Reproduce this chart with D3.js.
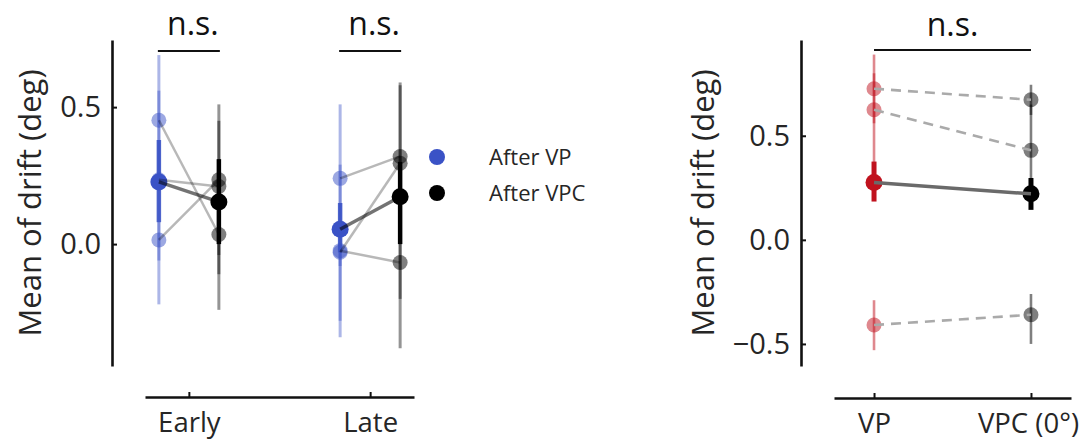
<!DOCTYPE html>
<html><head><meta charset="utf-8">
<script src="https://cdn.jsdelivr.net/npm/d3@7"></script>
<style>
html,body{margin:0;padding:0;background:#fff;}
svg{display:block;font-family:"Open Sans",sans-serif;}
</style></head>
<body><svg id="c" width="1088" height="441"></svg>
<script>
// ---------- data ----------
const leftCategories = ["Early", "Late"];
const vpIndiv   = [[0.452, 0.235, 0.015], [0.24, -0.03, -0.024]];
const vpIndivCI = [[[0.20, 0.69], [-0.06, 0.56], [-0.22, 0.38]],
                   [[-0.08, 0.51], [-0.34, 0.29], [-0.28, 0.15]]];
const vpMean    = [0.227, 0.054];
const vpMeanCI  = [[0.08, 0.38], [-0.03, 0.15]];
const vpcIndiv   = [[0.035, 0.21, 0.235], [0.32, 0.295, -0.067]];
const vpcIndivCI = [[[-0.11, 0.31], [-0.24, 0.45], [-0.04, 0.51]],
                    [[0.05, 0.59], [-0.38, 0.58], [-0.20, 0.08]]];
const vpcMean    = [0.154, 0.173];
const vpcMeanCI  = [[0.0, 0.31], [0.0, 0.30]];
const leftTicks = [0.0, 0.5];

const rightCategories = ["VP", "VPC (0°)"];
const vpR      = [0.726, 0.625, -0.409];
const vpRCI    = [[0.56, 0.89], [0.30, 0.80], [-0.53, -0.29]];
const vpRMean  = 0.276;
const vpRMeanCI = [0.184, 0.376];
const vpcR      = [0.673, 0.43, -0.36];
const vpcRCI    = [[0.60, 0.745], [0.25, 0.65], [-0.50, -0.26]];
const vpcRMean  = 0.221;
const vpcRMeanCI = [0.144, 0.297];
const rightTicks = [-0.5, 0.0, 0.5];

const legendLabels = ["After VP", "After VPC"];
const yLabel = "Mean of drift (deg)";
const sigLabel = "n.s.";

// ---------- styles ----------
const BLUE = "#3a52c6", RED = "#c0121e", BLACK = "#000";
const TXT = "#262626";
const svg = d3.select("#c");

function styleAxis(g, fs){
  g.select(".domain").attr("stroke", "#111").attr("stroke-width", 2.6);
  g.selectAll(".tick line").attr("stroke", "#111").attr("stroke-width", 2);
  g.selectAll(".tick text").attr("fill", TXT).attr("font-size", fs).attr("font-family", "Open Sans");
}

// ---------- left panel ----------
const yL = d3.scaleLinear().domain([-0.445, 0.745]).range([366, 40]);
const xL = d3.scalePoint().domain(leftCategories).range([145, 414]).padding(0.242);
const off = 30;

const gyL = svg.append("g").attr("transform", "translate(112,0)")
  .call(d3.axisLeft(yL).tickValues(leftTicks).tickFormat(d3.format(".1f")).tickSize(-5).tickSizeOuter(0).tickPadding(11));
styleAxis(gyL, 29);
const gxL = svg.append("g").attr("transform", "translate(0,397)")
  .call(d3.axisBottom(xL).tickSize(-5).tickSizeOuter(0).tickPadding(15));
styleAxis(gxL, 27.5);

svg.append("text").attr("transform", `translate(41,${(40+366)/2}) rotate(-90)`)
  .attr("text-anchor", "middle").attr("font-size", 31).attr("fill", TXT).text(yLabel);

const L = svg.append("g");
leftCategories.forEach((c, i) => {
  const x1 = xL(c) - off, x2 = xL(c) + off;
  vpIndivCI[i].forEach(ci => L.append("line").attr("x1", x1).attr("x2", x1)
    .attr("y1", yL(ci[0])).attr("y2", yL(ci[1])).attr("stroke", BLUE).attr("stroke-opacity", 0.42).attr("stroke-width", 3));
  vpcIndivCI[i].forEach(ci => L.append("line").attr("x1", x2).attr("x2", x2)
    .attr("y1", yL(ci[0])).attr("y2", yL(ci[1])).attr("stroke", BLACK).attr("stroke-opacity", 0.42).attr("stroke-width", 3));
  L.append("line").attr("x1", x1).attr("x2", x1).attr("y1", yL(vpMeanCI[i][0])).attr("y2", yL(vpMeanCI[i][1]))
    .attr("stroke", BLUE).attr("stroke-opacity", 0.85).attr("stroke-width", 4.5);
  L.append("line").attr("x1", x2).attr("x2", x2).attr("y1", yL(vpcMeanCI[i][0])).attr("y2", yL(vpcMeanCI[i][1]))
    .attr("stroke", BLACK).attr("stroke-width", 4.5);
  vpIndiv[i].forEach(v => L.append("circle").attr("cx", x1).attr("cy", yL(v)).attr("r", 7.5).attr("fill", BLUE).attr("fill-opacity", 0.5));
  vpcIndiv[i].forEach(v => L.append("circle").attr("cx", x2).attr("cy", yL(v)).attr("r", 7.5).attr("fill", BLACK).attr("fill-opacity", 0.5));
  L.append("circle").attr("cx", x1).attr("cy", yL(vpMean[i])).attr("r", 8.5).attr("fill", BLUE);
  L.append("circle").attr("cx", x2).attr("cy", yL(vpcMean[i])).attr("r", 8.5).attr("fill", BLACK);
  vpIndiv[i].forEach((v, k) => L.append("line").attr("x1", x1).attr("x2", x2)
    .attr("y1", yL(v)).attr("y2", yL(vpcIndiv[i][k])).attr("stroke", "#000").attr("stroke-opacity", 0.28).attr("stroke-width", 2.5));
  L.append("line").attr("x1", x1).attr("x2", x2).attr("y1", yL(vpMean[i])).attr("y2", yL(vpcMean[i]))
    .attr("stroke", "#000").attr("stroke-opacity", 0.55).attr("stroke-width", 3.5);
  L.append("line").attr("x1", x1 - 1).attr("x2", x2 + 1).attr("y1", 51).attr("y2", 51).attr("stroke", "#111").attr("stroke-width", 2);
  L.append("text").attr("x", xL(c) + 4).attr("y", 35).attr("text-anchor", "middle")
    .attr("font-size", 32).attr("fill", "#111").text(sigLabel);
});

// legend
const legColors = [BLUE, BLACK];
legendLabels.forEach((t, i) => {
  const y = 157 + i * 36;
  svg.append("circle").attr("cx", 437).attr("cy", y).attr("r", 8).attr("fill", legColors[i]);
  svg.append("text").attr("x", 489).attr("y", y).attr("dy", "0.35em").attr("font-size", 22)
    .attr("fill", TXT).text(t);
});

// ---------- right panel ----------
const yR = d3.scaleLinear().domain([-0.606, 0.96]).range([366, 40]);
const xR = d3.scalePoint().domain(rightCategories).range([834, 1071]).padding(0.255);
const fmtR = d => (d < 0 ? "\u2212" : "") + d3.format(".1f")(Math.abs(d));
const gyR = svg.append("g").attr("transform", "translate(801,0)")
  .call(d3.axisLeft(yR).tickValues(rightTicks).tickFormat(fmtR).tickSize(-5).tickSizeOuter(0).tickPadding(11));
styleAxis(gyR, 29);
const gxR = svg.append("g").attr("transform", "translate(0,398)")
  .call(d3.axisBottom(xR).tickSize(-5).tickSizeOuter(0).tickPadding(15));
styleAxis(gxR, 27.5);
gxR.selectAll(".tick text").attr("dx", (d, i) => i === 1 ? -3 : 0);

svg.append("text").attr("transform", `translate(714,${(40+366)/2}) rotate(-90)`)
  .attr("text-anchor", "middle").attr("font-size", 31).attr("fill", TXT).text(yLabel);

const R = svg.append("g");
const xa = xR(rightCategories[0]), xb = xR(rightCategories[1]);
vpRCI.forEach(ci => R.append("line").attr("x1", xa).attr("x2", xa).attr("y1", yR(ci[0])).attr("y2", yR(ci[1]))
  .attr("stroke", RED).attr("stroke-opacity", 0.5).attr("stroke-width", 2.6));
vpcRCI.forEach(ci => R.append("line").attr("x1", xb).attr("x2", xb).attr("y1", yR(ci[0])).attr("y2", yR(ci[1]))
  .attr("stroke", BLACK).attr("stroke-opacity", 0.5).attr("stroke-width", 2.6));
R.append("line").attr("x1", xa).attr("x2", xa).attr("y1", yR(vpRMeanCI[0])).attr("y2", yR(vpRMeanCI[1]))
  .attr("stroke", RED).attr("stroke-width", 5);
R.append("line").attr("x1", xb).attr("x2", xb).attr("y1", yR(vpcRMeanCI[0])).attr("y2", yR(vpcRMeanCI[1]))
  .attr("stroke", BLACK).attr("stroke-width", 5);
vpR.forEach(v => R.append("circle").attr("cx", xa).attr("cy", yR(v)).attr("r", 7.5).attr("fill", RED).attr("fill-opacity", 0.5));
vpcR.forEach(v => R.append("circle").attr("cx", xb).attr("cy", yR(v)).attr("r", 7.5).attr("fill", BLACK).attr("fill-opacity", 0.5));
R.append("circle").attr("cx", xa).attr("cy", yR(vpRMean)).attr("r", 8.5).attr("fill", RED);
R.append("circle").attr("cx", xb).attr("cy", yR(vpcRMean)).attr("r", 8.5).attr("fill", BLACK);
vpR.forEach((v, k) => R.append("line").attr("x1", xa).attr("x2", xb).attr("y1", yR(v)).attr("y2", yR(vpcR[k]))
  .attr("stroke", "#aaa").attr("stroke-width", 2.6).attr("stroke-dasharray", "10,7"));
R.append("line").attr("x1", xa).attr("x2", xb).attr("y1", yR(vpRMean)).attr("y2", yR(vpcRMean))
  .attr("stroke", "#6a6a6a").attr("stroke-width", 3.5);
R.append("line").attr("x1", xa).attr("x2", xb).attr("y1", 50).attr("y2", 50).attr("stroke", "#111").attr("stroke-width", 2);
R.append("text").attr("x", (xa + xb) / 2).attr("y", 36).attr("text-anchor", "middle")
  .attr("font-size", 32).attr("fill", "#111").text(sigLabel);
</script></body></html>
